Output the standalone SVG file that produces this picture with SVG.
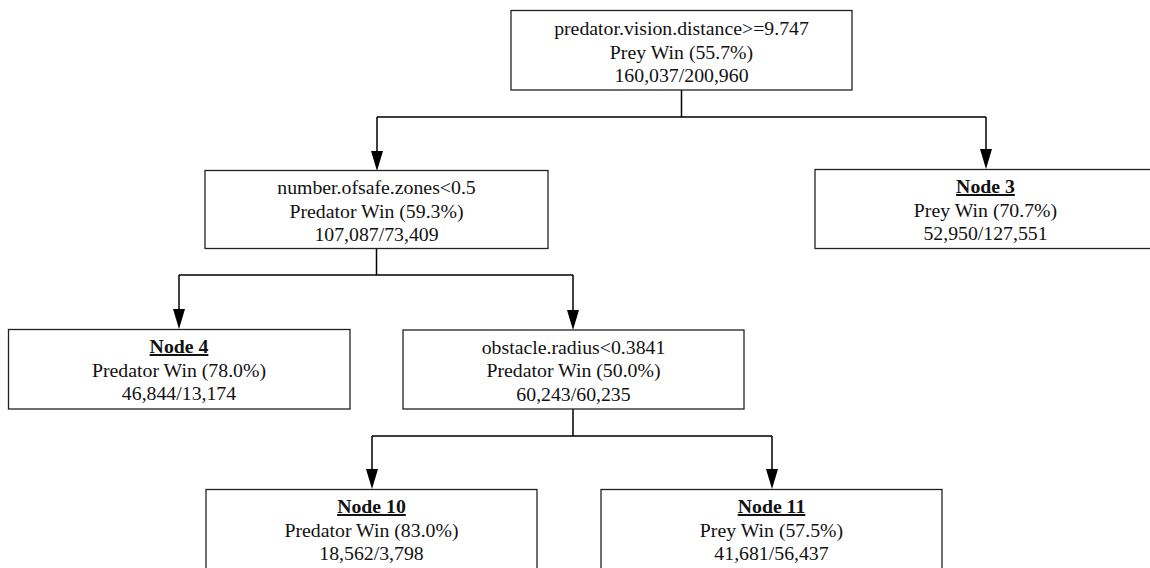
<svg xmlns="http://www.w3.org/2000/svg" width="1150" height="568" viewBox="0 0 1150 568">
<style>
.box{fill:#fff;stroke:#222;stroke-width:1.3}
.t{font-family:'Liberation Serif','Times New Roman',Times,serif;font-size:19.8px;fill:#111;text-anchor:middle}
.h{font-weight:bold;text-decoration:underline}
.c{fill:none;stroke:#000;stroke-width:1.5}
.a{fill:#000}
</style>
<rect width="1150" height="568" fill="#fff"/>
<g id="connectors">
<path class="c" d="M681.5,90 V117 M377,117 H986"/>
<path class="c" d="M377,117 V151"/>
<polygon class="a" points="371,151 383,151 377,171"/>
<path class="c" d="M986,117 V149"/>
<polygon class="a" points="980,149 992,149 986,169"/>
<path class="c" d="M376.5,248 V275 M179,275 H573"/>
<path class="c" d="M179,275 V309"/>
<polygon class="a" points="173,309 185,309 179,329"/>
<path class="c" d="M573,275 V310"/>
<polygon class="a" points="567,310 579,310 573,330"/>
<path class="c" d="M573,409 V436 M372,436 H772"/>
<path class="c" d="M372,436 V469"/>
<polygon class="a" points="366,469 378,469 372,489"/>
<path class="c" d="M772,436 V469"/>
<polygon class="a" points="766,469 778,469 772,489"/>
</g>
<g id="node1">
<rect class="box" x="511" y="10.5" width="341" height="79.5"/>
<text class="t" x="681.5" y="35">predator.vision.distance&gt;=9.747</text>
<text class="t" x="681.5" y="58.5">Prey Win (55.7%)</text>
<text class="t" x="681.5" y="82">160,037/200,960</text>
</g>
<g id="node2">
<rect class="box" x="205" y="170.5" width="343" height="78"/>
<text class="t" x="376.5" y="194">number.ofsafe.zones&lt;0.5</text>
<text class="t" x="376.5" y="217.5">Predator Win (59.3%)</text>
<text class="t" x="376.5" y="241">107,087/73,409</text>
</g>
<g id="node3">
<rect class="box" x="815" y="169.5" width="341" height="79"/>
<text class="t h" x="985.5" y="193">Node 3</text>
<text class="t" x="985.5" y="216.5">Prey Win (70.7%)</text>
<text class="t" x="985.5" y="240">52,950/127,551</text>
</g>
<g id="node4">
<rect class="box" x="8.5" y="329.5" width="341.5" height="79.5"/>
<text class="t h" x="179" y="353">Node 4</text>
<text class="t" x="179" y="376.5">Predator Win (78.0%)</text>
<text class="t" x="179" y="400">46,844/13,174</text>
</g>
<g id="node5">
<rect class="box" x="403" y="330" width="341" height="79"/>
<text class="t" x="573.5" y="353.5">obstacle.radius&lt;0.3841</text>
<text class="t" x="573.5" y="377">Predator Win (50.0%)</text>
<text class="t" x="573.5" y="400.5">60,243/60,235</text>
</g>
<g id="node10">
<rect class="box" x="206" y="489.5" width="331" height="90"/>
<text class="t h" x="371.5" y="513">Node 10</text>
<text class="t" x="371.5" y="536.5">Predator Win (83.0%)</text>
<text class="t" x="371.5" y="560">18,562/3,798</text>
</g>
<g id="node11">
<rect class="box" x="601" y="489.5" width="341" height="90"/>
<text class="t h" x="771.5" y="513">Node 11</text>
<text class="t" x="771.5" y="536.5">Prey Win (57.5%)</text>
<text class="t" x="771.5" y="560">41,681/56,437</text>
</g>
</svg>
